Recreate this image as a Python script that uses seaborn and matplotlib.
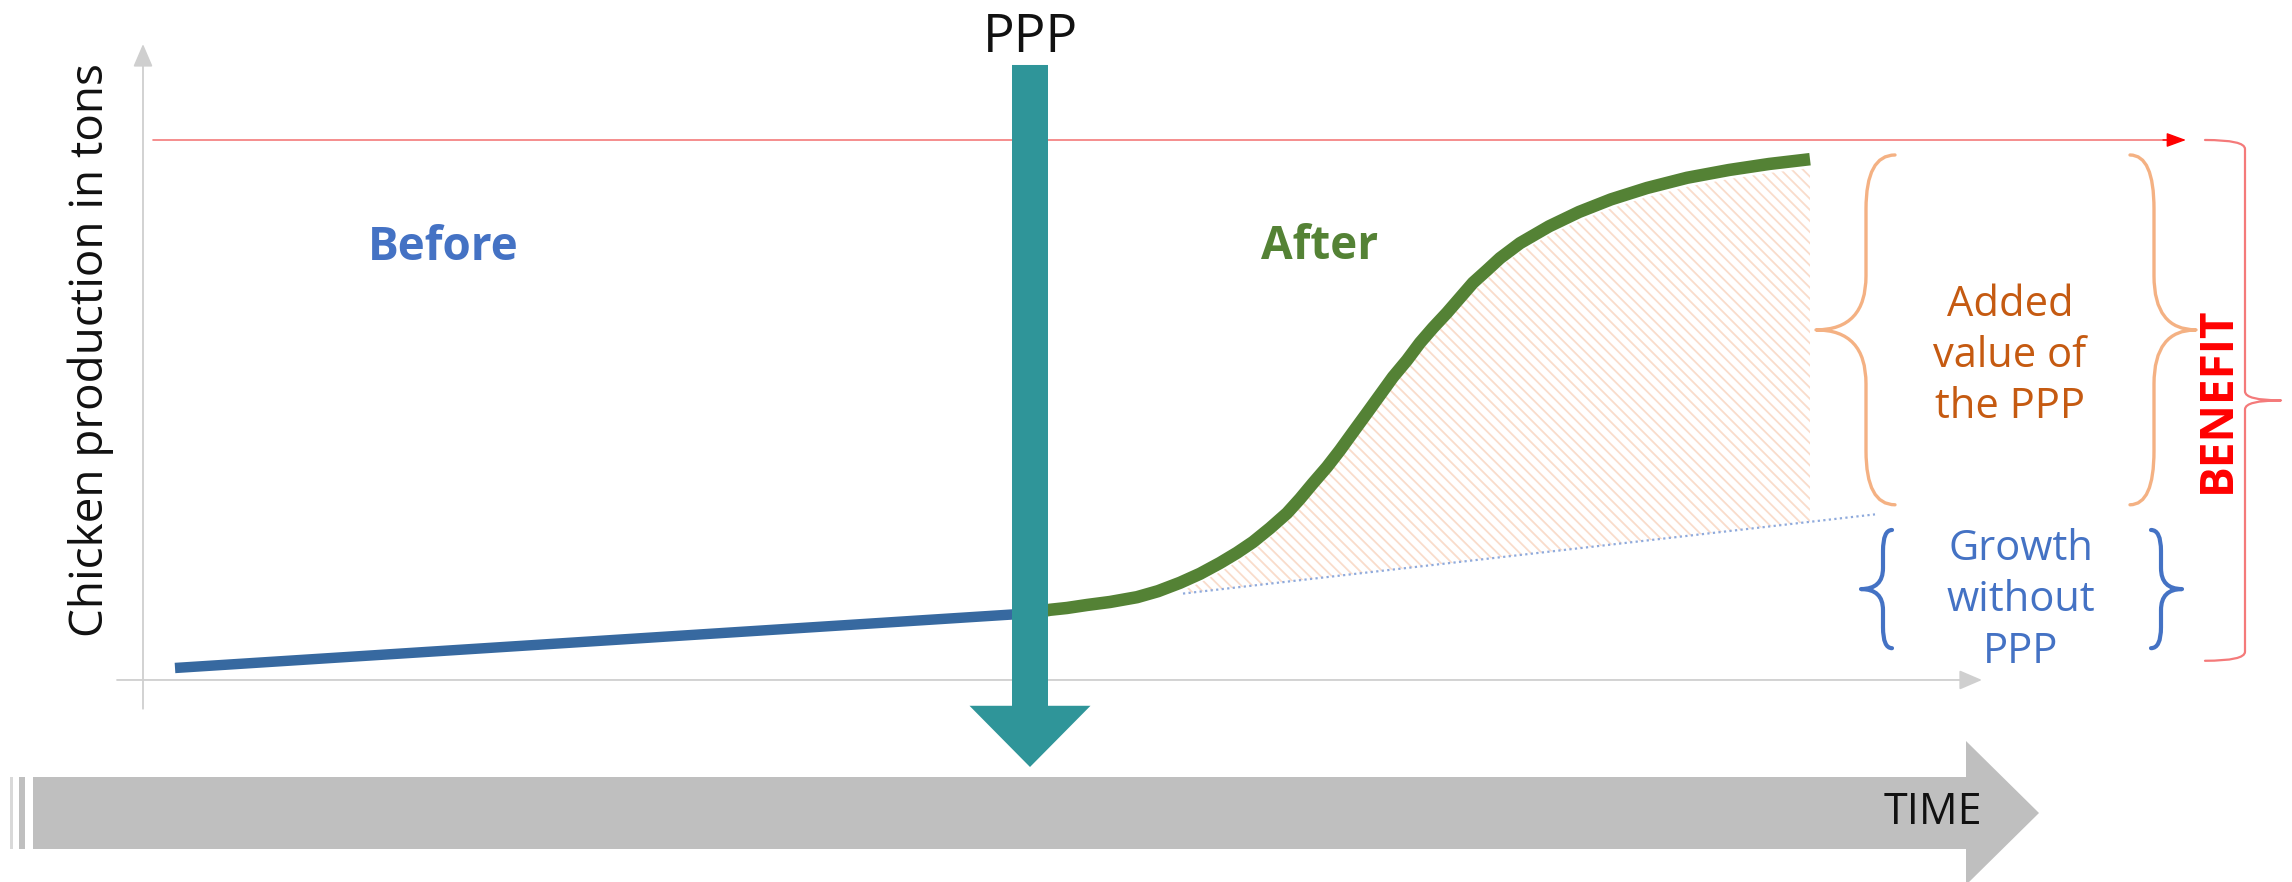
import numpy as np
import pandas as pd
import matplotlib
matplotlib.use("Agg")
import matplotlib.pyplot as plt
import seaborn as sns
from matplotlib.path import Path
from matplotlib.patches import PathPatch, Rectangle

# ---------------- data (time units / production units, schematic) ----------------
before_time = [1.6, 44.8]
before_vals = [2.0, 11.2]

after_time = [44.35, 45.35, 46.2, 47.2, 48.35, 49.7, 50.75, 51.85, 52.85, 53.85, 54.7,
              55.5, 56.35, 57.2, 57.85, 58.5, 59.2, 59.85, 60.5, 61.2, 61.85, 62.5,
              63.2, 63.85, 64.5, 65.2, 65.85, 66.5, 67.2, 67.85, 68.85, 70.3, 71.8,
              73.4, 75.2, 77.2, 79.3, 81.3, 83.35]
after_vals = [11.1, 11.7, 12.0, 12.5, 13.0, 13.8, 14.8, 16.2, 17.7, 19.5, 21.2,
              23.0, 25.3, 27.8, 30.2, 32.8, 35.5, 38.3, 41.3, 44.5, 47.5, 50.5,
              53.3, 56.2, 58.7, 61.2, 63.7, 66.2, 68.3, 70.3, 72.8, 75.6, 78.0,
              80.1, 82.0, 83.7, 85.0, 86.0, 86.8]

baseline_time = [52.0, 86.6]
baseline_vals = [14.4, 27.6]

potential_level = 90.0
ppp_time = 44.35

labels = {
    "ylabel": "Chicken production in tons",
    "ppp": "PPP",
    "before": "Before",
    "after": "After",
    "added": "Added\nvalue of\nthe PPP",
    "growth": "Growth\nwithout\nPPP",
    "benefit": "BENEFIT",
    "time": "TIME",
}

# ---------------- style ----------------
sns.set_theme(style="white")
plt.rcParams["font.family"] = ["Open Sans", "DejaVu Sans"]
plt.rcParams["hatch.linewidth"] = 1.3

C_BLUE_LINE = "#3769A0"
C_GREEN = "#548235"
C_TEAL = "#2F9599"
C_ORANGE_TXT = "#C55A11"
C_ORANGE_BR = "#F4B183"
C_BLUE_TXT = "#4472C4"
C_RED = "#FF0000"
C_RED_LIGHT = "#F47A7A"
C_AXIS = "#CFCFCF"
C_GRAY = "#BFBFBF"

fig = plt.figure(figsize=(22.92, 8.82), dpi=100)
ax = fig.add_axes([0, 0, 1, 1])
ax.set_xlim(-7.15, 107.45)
ax.set_ylim(-33.67, 113.33)
ax.axis("off")

# ---------------- axes arrows ----------------
ax.annotate("", xy=(0, 106), xytext=(0, -4.8),
            arrowprops=dict(arrowstyle="-|>,head_length=0.7,head_width=0.3",
                            color=C_AXIS, lw=1.3, mutation_scale=20,
                            shrinkA=0, shrinkB=0))
ax.annotate("", xy=(91.95, 0), xytext=(-1.3, 0),
            arrowprops=dict(arrowstyle="-|>,head_length=0.7,head_width=0.3",
                            color=C_AXIS, lw=1.3, mutation_scale=20,
                            shrinkA=0, shrinkB=0))

# ---------------- potential (red) line ----------------
ax.plot([0.5, 101.5], [potential_level, potential_level], color=C_RED_LIGHT, lw=1.2, zorder=2)
ax.annotate("", xy=(102.15, potential_level), xytext=(101.0, potential_level),
            arrowprops=dict(arrowstyle="-|>,head_length=0.6,head_width=0.22",
                            color=C_RED, lw=1.0, mutation_scale=20,
                            shrinkA=0, shrinkB=0))

# ---------------- hatched added-value area ----------------
at = np.array(after_time)
av = np.array(after_vals)
sel = at >= baseline_time[0]
xs = np.concatenate([[baseline_time[0]], at[sel]])
top = np.concatenate([[np.interp(baseline_time[0], at, av)], av[sel]])
low = np.interp(xs, baseline_time, baseline_vals)
ax.fill_between(xs, low, np.maximum(top - 1.5, low), facecolor="none", edgecolor="#F9DCCB",
                hatch="\\\\\\", linewidth=0, zorder=1)

# ---------------- baseline (dotted) ----------------
sns.lineplot(x=baseline_time, y=baseline_vals, ax=ax, color="#8FAADC",
             lw=1.6, linestyle=(0, (1, 1.5)), zorder=2)

# ---------------- before / after curves ----------------
sns.lineplot(x=before_time, y=before_vals, ax=ax, color=C_BLUE_LINE, lw=7.5,
             solid_capstyle="butt", zorder=3)
sns.lineplot(x=after_time, y=after_vals, ax=ax, color=C_GREEN, lw=9,
             solid_capstyle="butt", solid_joinstyle="round", zorder=3, sort=False)

# ---------------- PPP arrow ----------------
ax.arrow(ppp_time, 102.5, 0, -117.0, width=1.8, head_width=6.05, head_length=10.2,
         length_includes_head=True, color=C_TEAL, lw=0, zorder=5)
ax.text(ppp_time, 104.6, labels["ppp"], ha="center", va="baseline", fontsize=38,
        color="#111111", zorder=6)

# ---------------- texts ----------------
ax.text(-2.6, 55, labels["ylabel"], rotation=90, ha="center", va="center",
        fontsize=33, color="#111111")
ax.text(15.0, 72.0, labels["before"], ha="center", va="center", fontsize=33,
        fontweight="bold", color=C_BLUE_TXT)
ax.text(58.85, 72.3, labels["after"], ha="center", va="center", fontsize=33,
        fontweight="bold", color=C_GREEN)
ax.text(93.35, 54.0, labels["added"], ha="center", va="center", fontsize=30,
        color=C_ORANGE_TXT, linespacing=1.27)
ax.text(93.9, 13.3, labels["growth"], ha="center", va="center", fontsize=30,
        color=C_BLUE_TXT, linespacing=1.3)
ax.text(103.7, 46.7, labels["benefit"], rotation=90, ha="center", va="center",
        fontsize=33, fontweight="bold", color=C_RED)


# ---------------- braces ----------------
def brace(x_arm, x_spine, x_tip, y0, y1, ry_end, ry_mid, color, lw):
    ym = (y0 + y1) / 2
    verts = [(x_arm, y0), (x_spine, y0), (x_spine, y0 + ry_end),
             (x_spine, ym - ry_mid),
             (x_spine, ym), (x_tip, ym),
             (x_spine, ym), (x_spine, ym + ry_mid),
             (x_spine, y1 - ry_end),
             (x_spine, y1), (x_arm, y1)]
    codes = [Path.MOVETO, Path.CURVE3, Path.CURVE3, Path.LINETO,
             Path.CURVE3, Path.CURVE3, Path.CURVE3, Path.CURVE3,
             Path.LINETO, Path.CURVE3, Path.CURVE3]
    ax.add_patch(PathPatch(Path(verts, codes), facecolor="none", edgecolor=color,
                           lw=lw, capstyle="round", joinstyle="round", clip_on=False))


brace(87.6, 86.15, 83.65, 29.2, 87.5, 9.0, 9.0, C_ORANGE_BR, 2.4)
brace(99.35, 100.55, 102.65, 29.2, 87.5, 9.0, 9.0, C_ORANGE_BR, 2.4)
brace(87.45, 87.0, 85.9, 5.3, 25.0, 3.5, 3.5, C_BLUE_TXT, 3.0)
brace(100.4, 100.9, 101.95, 5.3, 25.0, 3.5, 3.5, C_BLUE_TXT, 3.0)
brace(103.1, 105.1, 106.9, 3.2, 90.0, 1.5, 1.5, C_RED_LIGHT, 1.6)

# ---------------- time arrow ----------------
ax.arrow(-5.5, -22.17, 100.3, 0, width=12.0, head_width=24.0, head_length=3.65,
         length_includes_head=True, color=C_GRAY, lw=0, zorder=2)
ax.add_patch(Rectangle((-6.65, -28.17), 0.15, 12.0, color="#D9D9D9", lw=0))
ax.add_patch(Rectangle((-6.2, -28.17), 0.3, 12.0, color=C_GRAY, lw=0))
ax.text(91.95, -22.17, labels["time"], ha="right", va="center", fontsize=31,
        color="#111111", zorder=3)

fig.savefig("out.png", dpi=100)
